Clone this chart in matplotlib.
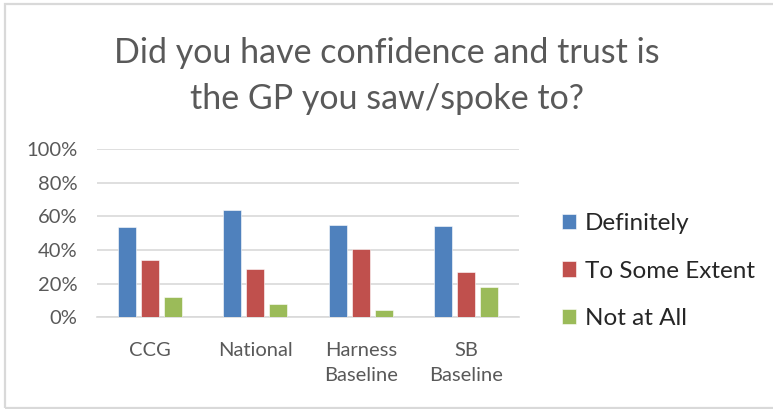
import matplotlib.pyplot as plt
import numpy as np
from matplotlib.patches import Rectangle

# categories and series (percent)
categories = ['CCG', 'National', 'Harness\nBaseline', 'SB\nBaseline']
definitely = [53.6, 63.7, 55.2, 54.4]
to_some_extent = [33.9, 28.6, 40.7, 27.0]
not_at_all = [11.9, 7.9, 4.2, 18.1]
series_names = ['Definitely', 'To Some Extent', 'Not at All']
y_ticks = [0, 20, 40, 60, 80, 100]

colors = ['#4F81BD', '#C0504D', '#9BBB59']

plt.rcParams['font.family'] = ['Lato', 'DejaVu Sans']

fig = plt.figure(figsize=(7.73, 4.09), dpi=100)
ax = fig.add_axes([0.1255, 0.2242, 0.546, 0.4108])

x = np.arange(len(categories))
width = 0.168
step = 0.218
for i, (vals, name) in enumerate(zip([definitely, to_some_extent, not_at_all], series_names)):
    ax.bar(x + (i - 1) * step, vals, width, color=colors[i], label=name,
           edgecolor='white', linewidth=0.4, zorder=3)

ax.set_xlim(-0.5, 3.5)
ax.set_ylim(0, 100)
ax.set_yticks(y_ticks)
ax.set_yticklabels([f'{t}%' for t in y_ticks])
ax.set_xticks(x)
ax.set_xticklabels(categories, linespacing=1.55)
ax.yaxis.grid(True, color='#D9D9D9', linewidth=1.2, zorder=0)
for s in ['top', 'right', 'left']:
    ax.spines[s].set_visible(False)
ax.spines['bottom'].set_color('#D9D9D9')
ax.spines['bottom'].set_linewidth(1.2)
ax.tick_params(axis='both', length=0, labelsize=14.5, colors='#595959')
ax.tick_params(axis='y', pad=14)
ax.tick_params(axis='x', pad=18)

# title
fig.text(0.5, 0.91, 'Did you have confidence and trust is\nthe GP you saw/spoke to?',
         ha='center', va='top', fontsize=24.5, color='#595959', linespacing=1.55)

# legend
leg = ax.legend(loc='center left', bbox_to_anchor=(1.05, 0.275), frameon=False,
                fontsize=17.5, handlelength=0.58, handleheight=0.58,
                handletextpad=0.35, labelspacing=1.09, labelcolor='#262626')

# chart border
fig.patches.append(Rectangle((5 / 773, 1 / 409), 1.0, 404 / 409, transform=fig.transFigure,
                             fill=False, edgecolor='#D9D9D9', linewidth=1.6))

fig.savefig('out.png', dpi=100)
